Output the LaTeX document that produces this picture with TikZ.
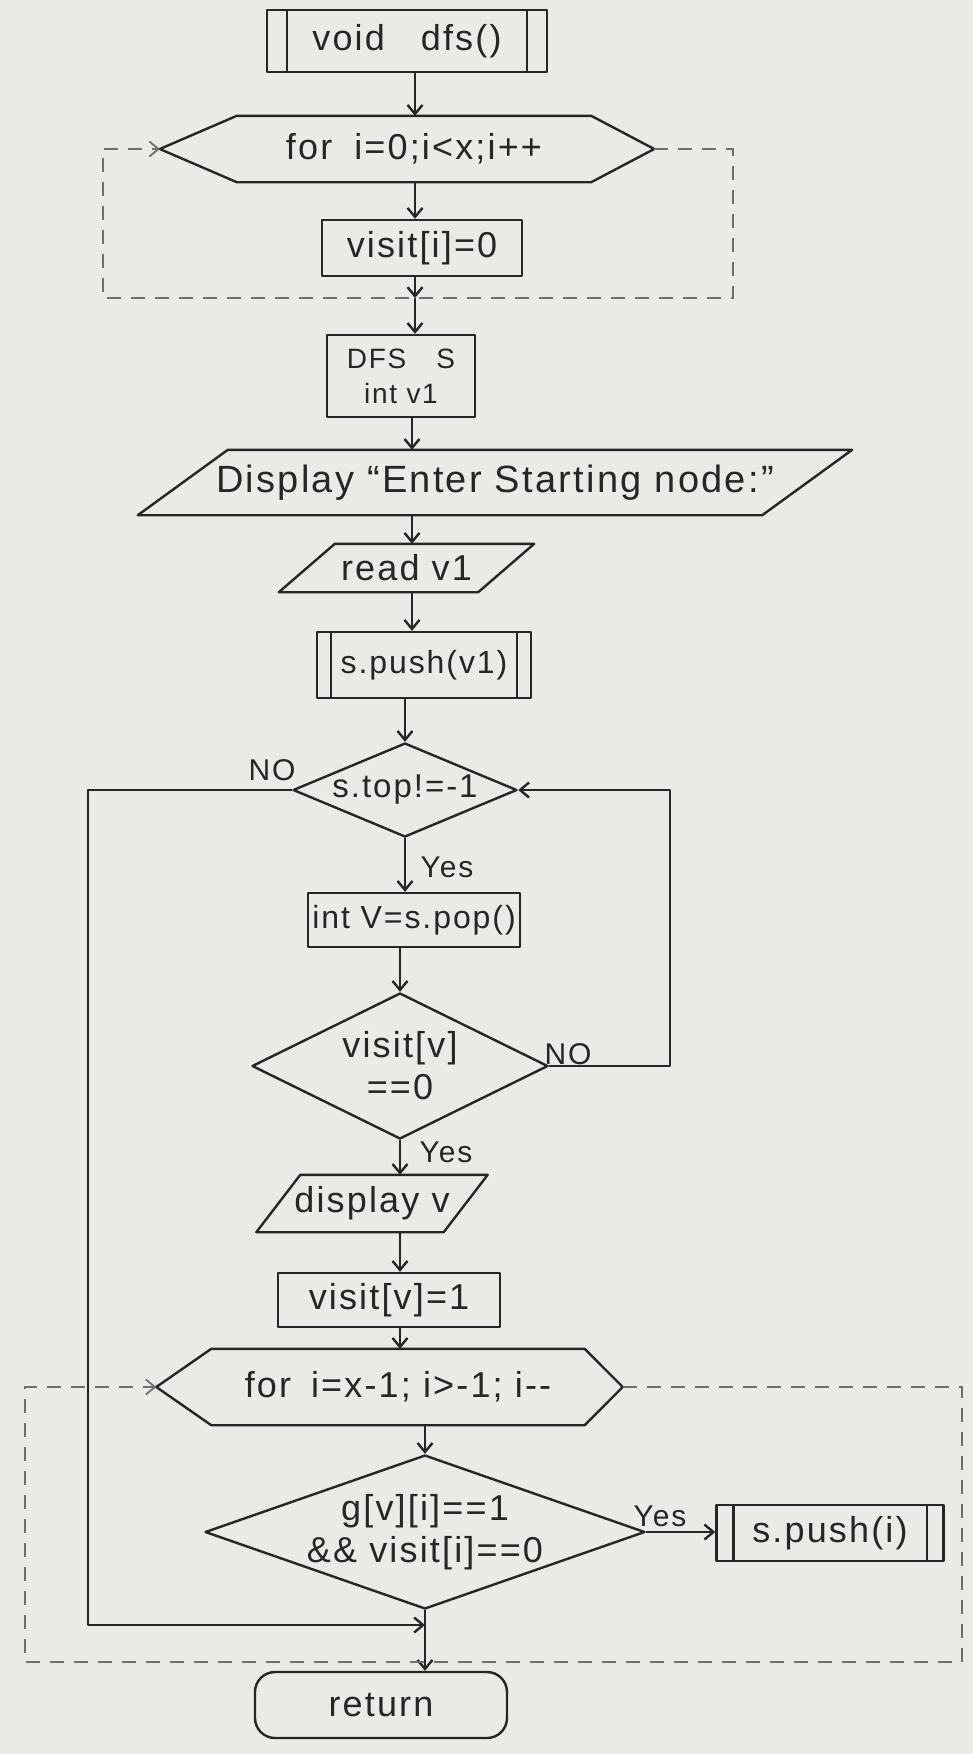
\documentclass[tikz,border=0pt]{standalone}
\usepackage{fontspec}
\setmainfont[LetterSpace=6]{Liberation Sans}
\usetikzlibrary{arrows.meta,shapes.geometric}
\definecolor{paper}{RGB}{234,234,231}
\definecolor{ink}{RGB}{38,38,38}
\definecolor{pencil}{RGB}{110,110,110}

\begin{document}
\begin{tikzpicture}[x=1pt,y=-1pt,
  every node/.style={text=ink, inner sep=0pt, align=center},
  txt/.style={font=\fontsize{36}{42}\selectfont},
  small/.style={font=\fontsize{32}{38}\selectfont},
  lbl/.style={font=\fontsize{30}{36}\selectfont},
  line/.style={draw=ink, line width=2.4pt, line join=round},
  flow/.style={line, -{Straight Barb[length=9pt,width=15pt]}},
  loop/.style={draw=pencil, line width=1.8pt, dash pattern=on 14pt off 10pt,
    -{Straight Barb[length=9pt,width=15pt]}},
  box/.style={txt, line, rectangle},
  frame/.style={txt, rectangle},
  decision/.style={line, diamond},
  terminal/.style={txt, line, rectangle, rounded corners=20pt}
]
% paper
\fill[paper] (0,0) rectangle (973,1754);

% column guides for the vertical flow lines
\coordinate (colA) at (415,0);
\coordinate (colB) at (412,0);

% ---- initialisation -------------------------------------------------
\node[box, minimum width=280, minimum height=62] (start) at (407,41) {void\quad dfs()};
\draw[line] ([xshift=21pt]start.north west) -- ([xshift=21pt]start.south west)
            ([xshift=-21pt]start.north east) -- ([xshift=-21pt]start.south east);

\node[frame, minimum width=354, minimum height=66] (h1) at (414,149) {for\hspace{22pt}i=0;i<x;i++};
\coordinate (h1in) at ([xshift=-77pt]h1.west);
\coordinate (h1out) at ([xshift=63pt]h1.east);
\draw[line] (h1in) -- (h1.north west) -- (h1.north east) -- (h1out)
            -- (h1.south east) -- (h1.south west) -- cycle;

\node[box, minimum width=200, minimum height=56] (v0) at (422,248) {visit[i]=0};

\node[box, minimum width=148, minimum height=82, font=\fontsize{28}{35}\selectfont] (dfs) at (401,376)
  {DFS\hspace{30pt}S\\int v1};

\node[frame, minimum width=624, minimum height=65, font=\fontsize{38}{44}\selectfont] (disp) at (495,482.5)
  {Display “Enter Starting node:”};
\draw[line] ([xshift=45pt]disp.north west) -- ([xshift=45pt]disp.north east)
            -- ([xshift=-45pt]disp.south east) -- ([xshift=-45pt]disp.south west) -- cycle;

\node[frame, minimum width=199, minimum height=48] (rd) at (406.5,568) {read v1};
\draw[line] ([xshift=28pt]rd.north west) -- ([xshift=28pt]rd.north east)
            -- ([xshift=-28pt]rd.south east) -- ([xshift=-28pt]rd.south west) -- cycle;

\node[box, small, minimum width=214, minimum height=66] (p1) at (424,665) {s.push(v1)};
\draw[line] ([xshift=15pt]p1.north west) -- ([xshift=15pt]p1.south west)
            ([xshift=-15pt]p1.north east) -- ([xshift=-15pt]p1.south east);

% ---- main stack loop ------------------------------------------------
\node[decision, minimum width=224, minimum height=94] (d1) at (405,790) {};
\node[txt, font=\fontsize{33}{40}\selectfont] (d1t) at (d1) {s.top!=-1};

\node[box, small, minimum width=212, minimum height=54] (pop) at (414,920) {int V=s.pop()};

\node[decision, minimum width=296, minimum height=146] (d2) at (400,1066) {};
\node[txt] (d2t) at (d2) {visit[v]\\==0};

\node[frame, minimum width=187, minimum height=57] (dv) at (372,1203.5) {display v};
\draw[line] ([xshift=22pt]dv.north west) -- ([xshift=22pt]dv.north east)
            -- ([xshift=-22pt]dv.south east) -- ([xshift=-22pt]dv.south west) -- cycle;

\node[box, minimum width=222, minimum height=54] (v1) at (389,1300) {visit[v]=1};

\node[frame, minimum width=373, minimum height=76] (h2) at (398,1387) {for\hspace{20pt}i=x-1; i>-1; i-{}-};
\coordinate (h2in) at ([xshift=-55pt]h2.west);
\coordinate (h2out) at ([xshift=38pt]h2.east);
\draw[line] (h2in) -- (h2.north west) -- (h2.north east) -- (h2out)
            -- (h2.south east) -- (h2.south west) -- cycle;

\node[decision, minimum width=440, minimum height=154] (d3) at (425,1532) {};
\node[txt] (d3t) at (d3) {g[v][i]==1\\\&\& visit[i]==0};

\node[box, minimum width=227, minimum height=56] (pi) at (830,1533) {s.push(i)};
\draw[line] ([xshift=18pt]pi.north west) -- ([xshift=18pt]pi.south west)
            ([xshift=-18pt]pi.north east) -- ([xshift=-18pt]pi.south east);

\node[terminal, minimum width=252, minimum height=66] (ret) at (381,1705) {return};

% ---- straight flow ----------------------------------------------------
\coordinate (x1) at (415,298);
\draw[flow] (start.south -| colA) -- (h1.north -| colA);
\draw[flow] (h1.south -| colA) -- (v0.north -| colA);
\draw[flow] (v0.south -| colA) -- (x1);
\draw[flow] (x1) -- (dfs.north -| colA);
\draw[flow] (dfs.south -| colB) -- (disp.north -| colB);
\draw[flow] (disp.south -| colB) -- (rd.north -| colB);
\draw[flow] (rd.south -| colB) -- (p1.north -| colB);
\draw[flow] (p1.south -| d1.north) -- (d1.north);
\draw[flow] (d1.south) -- (pop.north -| d1.south);
\draw[flow] (pop.south -| d2.north) -- (d2.north);
\draw[flow] (d2.south) -- (dv.north -| d2.south);
\draw[flow] (dv.south -| d2.south) -- (v1.north -| d2.south);
\draw[flow] (v1.south -| d2.south) -- (h2.north -| d2.south);
\draw[flow] (h2.south -| d3.north) -- (d3.north);
\draw[flow] (d3.east) -- (pi.west |- d3.east);
\draw[flow] (d3.south) -- (ret.north -| d3.south);

% ---- branches ---------------------------------------------------------
\coordinate (nol) at (88,1625);
\draw[flow] (d1.west) -| (nol) -- (nol -| d3.south);
\coordinate (nor) at (670,900);
\draw[flow] (d2.east) -| (nor) |- (d1.east);

% ---- for-loop returns (dashed) ---------------------------------------
\coordinate (l1r) at (733,298);
\coordinate (l1l) at (103,298);
\draw[loop] (h1out) -| (l1r) -- (l1l) |- (h1in);
\coordinate (l2r) at (962,1662);
\coordinate (l2l) at (25,1662);
\draw[loop] (h2out) -| (l2r) -- (l2l) |- (h2in);

% ---- branch labels ----------------------------------------------------
\node[lbl] (no1) at (272,770) {NO};
\node[lbl] (yes1) at (447,867) {Yes};
\node[lbl] (no2) at (568,1054) {NO};
\node[lbl] (yes2) at (446,1152) {Yes};
\node[lbl] (yes3) at (660,1516) {Yes};
\end{tikzpicture}
\end{document}
